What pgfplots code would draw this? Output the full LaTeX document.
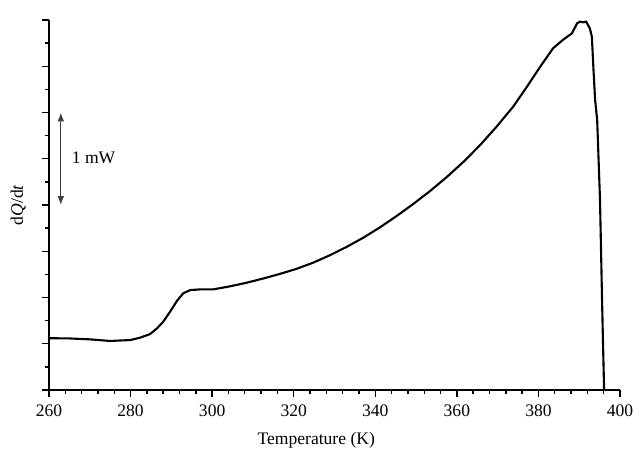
\documentclass[border=0pt]{standalone}
\usepackage{fontspec}
\setmainfont{Liberation Serif}
\usepackage{pgfplots}
\pgfplotsset{compat=1.18}
\usetikzlibrary{arrows.meta}

\begin{document}
\begin{tikzpicture}
\begin{axis}[
    name=dsc,
    scale only axis,
    width=14.275cm, height=9.25cm,
    xmin=260, xmax=400, ymin=0, ymax=16,
    axis x line*=bottom, axis y line*=left,
    axis line style={line width=1.2pt},
    every tick/.style={black, line width=1.0pt},
    tick align=outside,
    major tick length=0.18cm, minor tick length=0.11cm,
    xtick={260,280,...,400}, minor x tick num=4,
    ytick={0,2,...,16}, minor y tick num=1, yticklabels={},
    font=\fontsize{12.5}{14}\selectfont,
    tick label style={font=\fontsize{12.5}{14}\selectfont},
    xticklabel style={yshift=-2pt},
    /pgf/number format/assume math mode=true,
    /pgf/number format/1000 sep={},
    xlabel={Temperature (K)},
    ylabel={d\textit{Q}/d\textit{t}},
    xlabel style={at={(axis description cs:0.468,-0.135)}, anchor=center},
    ylabel style={at={(axis description cs:-0.054,0.5)}, anchor=center, rotate=0},
    clip=false,
]
\addplot[black, line width=1.5pt] coordinates {
    (260,2.24) (265,2.23) (270.05,2.19) (275,2.12) (279.9,2.16) (282.3,2.26)
    (284.8,2.42) (286.5,2.67) (288,2.95) (289.7,3.39) (291.4,3.86)
    (292.9,4.18) (294.6,4.32) (297,4.35) (300.2,4.35) (304,4.47)
    (308.5,4.64) (312.5,4.82) (316.6,5.02) (320.7,5.24) (324.7,5.50)
    (328.9,5.83) (333.1,6.20) (337.2,6.60) (341.2,7.04)
    (345.2,7.52) (349.2,8.03) (353.4,8.60) (357.6,9.22) (361.7,9.88)
    (365.7,10.59) (369.8,11.40) (373.8,12.25) (377.2,13.12)
    (380.4,13.97) (383.6,14.78) (386.0,15.14) (388.2,15.42) (389.5,15.86)
    (390.2,15.93) (390.9,15.90) (391.7,15.93) (392.6,15.64) (393.1,15.28)
    (393.5,13.84) (393.9,12.54) (394.4,11.68) (395.1,8.2) (395.6,3.89)
    (395.8,2.29) (396.1,0)
};
\draw[{Latex[length=2.2mm]}-{Latex[length=2.2mm]}, line width=0.8pt, black!75]
    (axis cs:262.9,8) -- (axis cs:262.9,12);
\node[anchor=west, font=\fontsize{12.5}{14}\selectfont] at (axis cs:264.4,10.05) {1 mW};
\end{axis}
\path (dsc.south west) ++(-1.225cm,-1.775cm) coordinate (bl);
\path (dsc.north east) ++(0.5cm,0.5cm) coordinate (tr);
\path (bl) rectangle (tr);
\end{tikzpicture}
\end{document}
